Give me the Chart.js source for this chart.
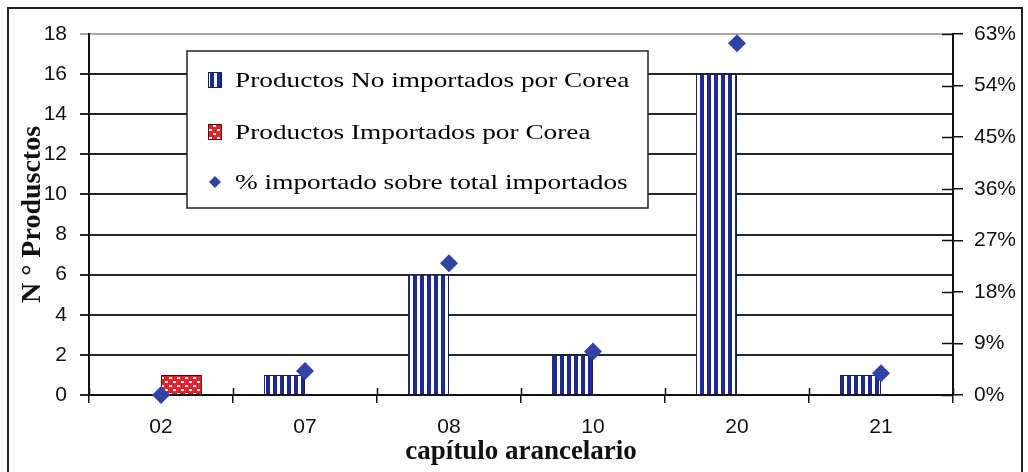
<!DOCTYPE html>
<html>
<head>
<meta charset="utf-8">
<script src="https://cdn.jsdelivr.net/npm/chart.js@4.4.1/dist/chart.umd.min.js"></script>
<style>
  html, body { margin: 0; padding: 0; background: #fff; }
  #wrap { width: 1028px; height: 472px; position: relative; }
</style>
</head>
<body>
<div id="wrap"><canvas id="chart"></canvas></div>
<script>
// data
const capitulos = ['02', '07', '08', '10', '20', '21'];
const noImportados = [0, 1, 6, 2, 16, 1];
const importados = [1, 0, 0, 0, 0, 0];
const pctImportado = [0, 4.2, 23.0, 7.6, 61.4, 3.8];
const productosAxis = { min: 0, max: 18, step: 2 };
const pctAxis = { min: 0, max: 63, step: 9 };

const NAVY = '#1f2a8e';
const RED = '#e0242a';
const DIAMOND = '#3243a6';
const TICK_FONT = { family: "'Liberation Sans', Arial, sans-serif", size: 21 };
const TITLE_FAMILY = "'Liberation Serif', 'Times New Roman', serif";

function stripePattern() {
    const c = document.createElement('canvas');
    c.width = 7; c.height = 4;
    const g = c.getContext('2d');
    g.fillStyle = '#fff'; g.fillRect(0, 0, 7, 4);
    g.fillStyle = NAVY; g.fillRect(0, 0, 4, 4);
    return g.createPattern(c, 'repeat');
}

function dotPattern() {
    const c = document.createElement('canvas');
    c.width = 8; c.height = 8;
    const g = c.getContext('2d');
    g.fillStyle = RED; g.fillRect(0, 0, 8, 8);
    g.fillStyle = '#fff';
    g.fillRect(1, 1, 3, 2);
    g.fillRect(5, 5, 3, 2);
    return g.createPattern(c, 'repeat');
}

// white page + thin frame round the picture
const framePlugin = {
    id: 'frame',
    beforeDraw(chart) {
        const ctx = chart.ctx;
        ctx.save();
        ctx.fillStyle = '#fff';
        ctx.fillRect(0, 0, chart.width, chart.height);
        ctx.strokeStyle = '#222';
        ctx.lineWidth = 2;
        ctx.strokeRect(8, 8, chart.width - 14, chart.height + 10);
        ctx.restore();
    }
};

// tick marks that cross the axis line (Excel style)
const crossTicks = {
    id: 'crossTicks',
    afterDraw(chart) {
        const ctx = chart.ctx;
        const x = chart.scales.x, y1 = chart.scales.y1;
        const area = chart.chartArea;
        ctx.save();
        ctx.strokeStyle = '#111';
        ctx.lineWidth = 1.5;
        ctx.beginPath();
        const half = (x.getPixelForTick(1) - x.getPixelForTick(0)) / 2;
        for (let i = 0; i <= capitulos.length; i++) {
            const px = Math.round(x.getPixelForTick(0) - half + i * half * 2) + 0.5;
            ctx.moveTo(px, area.bottom - 7);
            ctx.lineTo(px, area.bottom);
        }
        y1.ticks.forEach((t, i) => {
            const py = Math.round(y1.getPixelForTick(i)) + 0.5;
            ctx.moveTo(area.right - 11, py);
            ctx.lineTo(area.right, py);
        });
        ctx.stroke();
        ctx.restore();
    }
};

// boxed legend inside the plot
const boxLegend = {
    id: 'boxLegend',
    afterDraw(chart) {
        const ctx = chart.ctx;
        const area = chart.chartArea;
        const left = area.left + 98, top = area.top + 17, w = 461, h = 157;
        ctx.save();
        ctx.fillStyle = '#fff';
        ctx.fillRect(left, top, w, h);
        ctx.strokeStyle = '#222';
        ctx.lineWidth = 1.5;
        ctx.strokeRect(left, top, w, h);
        const rows = [29, 81, 131];
        chart.data.datasets.forEach((ds, i) => {
            const cy = top + rows[i];
            const sx = left + 28;
            if (ds.type === 'line') {
                ctx.fillStyle = DIAMOND;
                ctx.beginPath();
                ctx.moveTo(sx, cy - 6); ctx.lineTo(sx + 6, cy);
                ctx.lineTo(sx, cy + 6); ctx.lineTo(sx - 6, cy);
                ctx.closePath(); ctx.fill();
            } else {
                ctx.fillStyle = ds.backgroundColor;
                ctx.fillRect(sx - 6, cy - 7, 12, 14);
                ctx.strokeStyle = ds.borderColor;
                ctx.lineWidth = 1;
                ctx.strokeRect(sx - 6.5, cy - 7.5, 13, 15);
            }
            ctx.save();
            ctx.translate(left + 48, cy);
            ctx.scale(1.3, 1);
            ctx.fillStyle = '#000';
            ctx.font = "21px " + TITLE_FAMILY;
            ctx.textBaseline = 'middle';
            ctx.fillText(ds.label, 0, 1);
            ctx.restore();
        });
        ctx.restore();
    }
};

const gridColor = '#262626';

new Chart(document.getElementById('chart'), {
    data: {
        labels: capitulos,
        datasets: [
            {
                type: 'bar',
                label: 'Productos No importados por Corea',
                data: noImportados,
                backgroundColor: stripePattern(),
                borderColor: '#151c66',
                borderWidth: ctx => ctx.raw ? 1 : 0,
                categoryPercentage: 0.57,
                barPercentage: 1.0,
                yAxisID: 'y',
                order: 1
            },
            {
                type: 'bar',
                label: 'Productos Importados por Corea',
                data: importados,
                backgroundColor: dotPattern(),
                borderColor: '#5a0c0c',
                borderWidth: ctx => ctx.raw ? 1 : 0,
                categoryPercentage: 0.57,
                barPercentage: 1.0,
                yAxisID: 'y',
                order: 1
            },
            {
                type: 'line',
                label: '% importado sobre total importados',
                data: pctImportado,
                showLine: false,
                pointStyle: 'rectRot',
                pointRadius: 9,
                pointBackgroundColor: DIAMOND,
                pointBorderColor: DIAMOND,
                pointBorderWidth: 0,
                yAxisID: 'y1',
                clip: false,
                order: 0
            }
        ]
    },
    options: {
        responsive: true,
        maintainAspectRatio: false,
        animation: false,
        layout: { padding: { top: 34, left: 0, right: 0, bottom: 0 } },
        plugins: { legend: { display: false }, tooltip: { enabled: false } },
        scales: {
            x: {
                offset: true,
                afterFit: s => { s.height = 77; },
                grid: { offset: true, drawOnChartArea: false, tickLength: 8, color: '#111', lineWidth: 1.5 },
                border: { display: true, color: '#111', width: 2 },
                ticks: { color: '#111', font: TICK_FONT, padding: 12 },
                title: {
                    display: true,
                    text: 'capítulo arancelario',
                    color: '#111',
                    font: { family: TITLE_FAMILY, size: 27, weight: 'bold' },
                    padding: { top: 4, bottom: 4 }
                }
            },
            y: {
                position: 'left',
                min: productosAxis.min,
                max: productosAxis.max,
                afterFit: s => { s.width = 89; },
                grid: {
                    color: ctx => ctx.tick && ctx.tick.value === productosAxis.max ? '#aaa' : gridColor,
                    lineWidth: 2,
                    tickLength: 9
                },
                border: { display: true, color: '#111', width: 2 },
                ticks: { stepSize: productosAxis.step, color: '#111', font: TICK_FONT, padding: 13 },
                title: {
                    display: true,
                    text: 'N ° Produsctos',
                    color: '#111',
                    font: { family: TITLE_FAMILY, size: 28, weight: 'bold' },
                    padding: { top: 16, bottom: 0 }
                }
            },
            y1: {
                position: 'right',
                min: pctAxis.min,
                max: pctAxis.max,
                afterFit: s => { s.width = 75; },
                grid: { drawOnChartArea: false, tickLength: 10, color: '#111', lineWidth: 1.5 },
                border: { display: true, color: '#111', width: 2 },
                ticks: {
                    stepSize: pctAxis.step,
                    color: '#111',
                    font: TICK_FONT,
                    padding: 11,
                    callback: v => v + '%'
                }
            }
        }
    },
    plugins: [framePlugin, crossTicks, boxLegend]
});
</script>
</body>
</html>
